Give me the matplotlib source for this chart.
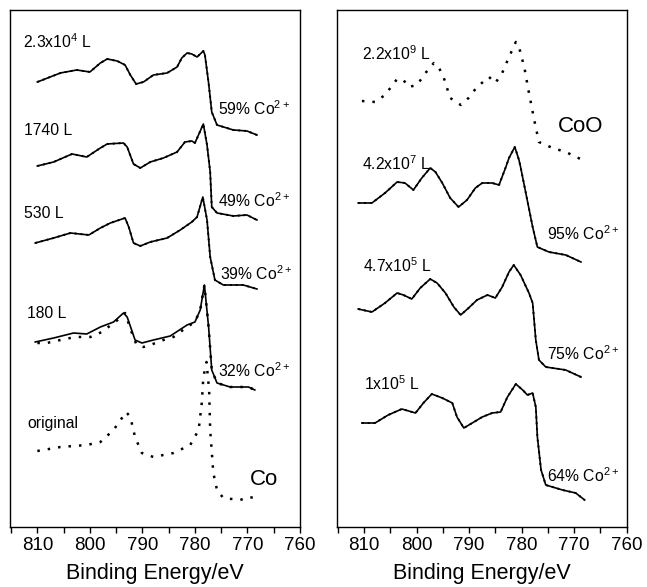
import matplotlib
matplotlib.use("Agg")
import matplotlib.pyplot as plt
from matplotlib.ticker import MultipleLocator

plt.rcParams['font.family'] = ['Liberation Sans', 'DejaVu Sans']
plt.rcParams['mathtext.default'] = 'regular'

# ---- left panel: Co metal oxidation series (binding energy eV, intensity a.u.) ----
e_23e4 = [810.0, 805.6, 802.5, 800.0, 798.0, 796.7, 794.8, 793.3, 792.3, 791.2, 789.8, 787.9, 785.3,
          783.4, 782.5, 781.5, 780.6, 779.6, 778.4, 778.1, 777.4, 776.8, 775.8, 772.7, 770.1, 768.2]
i_23e4 = [445, 454, 457, 455, 464, 468, 466, 462, 452, 443, 445, 452, 454,
          460, 469, 474, 473, 470, 476, 472, 444, 415, 402, 397, 396, 392]

e_1740 = [810.0, 806.9, 803.4, 800.6, 798.0, 796.7, 793.6, 792.9, 791.7, 790.4, 788.5, 786.0,
          783.4, 781.9, 780.6, 780.0, 778.4, 777.7, 777.1, 776.8, 775.8, 772.7, 770.1, 768.2]
i_1740 = [361, 365, 373, 370, 379, 383, 384, 380, 363, 359, 365, 369,
          375, 385, 386, 384, 403, 382, 355, 320, 314, 311, 312, 307]

e_530 = [810.4, 806.9, 803.7, 800.2, 798.0, 796.1, 793.3, 792.6, 791.7, 790.4, 788.5, 785.3,
         782.8, 780.6, 779.6, 778.5, 777.7, 777.1, 776.2, 774.6, 770.8, 768.2]
i_530 = [284, 289, 294, 292, 299, 304, 309, 300, 284, 281, 285, 289,
         297, 305, 310, 330, 307, 270, 247, 242, 242, 238]

e_180 = [810.4, 806.9, 803.1, 800.6, 798.0, 795.5, 793.6, 792.9, 791.4, 790.1, 787.9, 784.7,
         781.5, 780.0, 779.0, 778.2, 777.4, 776.8, 775.8, 773.3, 769.8, 768.6]
i_180 = [185, 189, 194, 193, 200, 205, 214, 210, 187, 184, 187, 191,
         202, 205, 217, 242, 200, 157, 144, 140, 140, 137]
# measured points of the 180 L spectrum (sit slightly below the fit)
e_180_pts = [810.0, 808.2, 805.6, 802.8, 799.9, 797.7, 795.5, 794.2, 793.3, 792.0, 791.1, 789.8,
             788.5, 786.0, 784.1, 781.5, 780.0, 779.0, 778.2, 777.4, 776.8, 775.8, 773.3, 769.8, 768.6]
i_180_pts = [184, 184, 187, 190, 190, 195, 204, 209, 214, 194, 182, 180,
             182, 187, 190, 200, 205, 217, 242, 200, 157, 144, 140, 140, 137]

e_orig = [810.0, 805.6, 800.6, 798.0, 795.5, 793.9, 793.1, 792.3, 791.4, 790.1, 787.9, 784.1,
          780.9, 779.3, 778.7, 778.4, 777.8, 777.3, 777.1, 776.5, 775.8, 774.6, 771.4, 769.8, 768.6]
i_orig = [76, 80, 82, 85, 97, 109, 115, 110, 90, 74, 70, 74,
          82, 97, 124, 150, 165, 137, 97, 54, 37, 29, 27, 30, 29]

# ---- right panel: CoO series ----
e_22e9 = [810.4, 807.9, 806.0, 803.7, 802.5, 801.5, 799.9, 798.3, 796.7, 795.8, 794.8, 793.6, 791.6, 790.1,
          788.5, 786.2, 785.0, 783.7, 782.4, 781.1, 780.5, 779.5, 778.6, 777.6, 776.7, 774.1, 771.6, 768.4]
i_22e9 = [426, 425, 432, 448, 447, 440, 442, 454, 464, 460, 449, 429, 422, 429,
          440, 450, 444, 454, 470, 485, 480, 460, 434, 407, 385, 379, 375, 367]

e_42e7 = [811.1, 808.5, 806.0, 803.7, 802.2, 800.6, 799.0, 797.4, 796.4, 795.1, 793.6, 792.0, 790.4, 788.8,
          787.5, 785.6, 784.3, 783.0, 782.4, 781.8, 781.3, 780.5, 780.2, 779.2, 777.9, 777.0, 774.8, 771.6, 768.7]
i_42e7 = [324, 324, 334, 345, 344, 337, 349, 359, 355, 344, 329, 320, 327, 339,
          344, 344, 342, 360, 369, 375, 380, 367, 360, 334, 300, 280, 275, 272, 265]

e_47e5 = [811.1, 808.5, 806.0, 803.7, 802.5, 800.9, 799.3, 797.4, 796.1, 794.5, 792.9, 791.6, 790.1, 788.5,
          786.5, 785.0, 783.7, 782.4, 781.5, 780.2, 778.6, 777.9, 777.3, 776.7, 775.4, 771.6, 768.7]
i_47e5 = [218, 215, 224, 234, 232, 228, 239, 248, 244, 234, 220, 212, 219, 227,
          232, 229, 240, 255, 262, 252, 234, 224, 187, 167, 160, 157, 150]

e_1e5 = [810.4, 807.9, 805.4, 802.8, 800.2, 798.7, 797.1, 795.1, 793.2, 792.3, 791.0, 789.4, 787.5, 785.6,
         784.0, 782.7, 781.1, 779.8, 778.9, 777.9, 777.3, 777.0, 776.3, 775.4, 772.2, 769.7, 768.0]
i_1e5 = [104, 104, 112, 118, 114, 124, 133, 129, 124, 110, 99, 104, 110, 114,
         115, 130, 143, 137, 132, 134, 120, 90, 57, 42, 37, 34, 27]

fig = plt.figure(figsize=(6.47, 5.87), dpi=100)
ax1 = fig.add_axes([0.0155, 0.1022, 0.4482, 0.8808])
ax2 = fig.add_axes([0.5204, 0.1022, 0.4482, 0.8808])


def fitted(ax, e, i):
    ax.plot(e, i, color='black', lw=1.2)
    ax.plot(e, i, color='black', lw=1.4, linestyle=(0, (1, 2)))


def dotted(ax, e, i):
    ax.plot(e, i, color='black', lw=1.8, linestyle=(0, (1, 3.2)))


fitted(ax1, e_23e4, i_23e4)
fitted(ax1, e_1740, i_1740)
fitted(ax1, e_530, i_530)
ax1.plot(e_180, i_180, color='black', lw=1.2)
dotted(ax1, e_180_pts, i_180_pts)
dotted(ax1, e_orig, i_orig)

dotted(ax2, e_22e9, i_22e9)
fitted(ax2, e_42e7, i_42e7)
fitted(ax2, e_47e5, i_47e5)
fitted(ax2, e_1e5, i_1e5)

fs = 11.3
ax1.text(812.7, 479, r'2.3x10$^4$ L', fontsize=fs)
ax1.text(812.5, 392, '1740 L', fontsize=fs)
ax1.text(812.5, 309, '530 L', fontsize=fs)
ax1.text(811.9, 209, '180 L', fontsize=fs)
ax1.text(811.9, 99, 'original', fontsize=fs)
ax1.text(769.5, 42, 'Co', fontsize=16)
ax1.text(775.6, 412, r'59% Co$^{2+}$', fontsize=fs)
ax1.text(775.6, 320, r'49% Co$^{2+}$', fontsize=fs)
ax1.text(775.2, 247, r'39% Co$^{2+}$', fontsize=fs)
ax1.text(775.6, 150, r'32% Co$^{2+}$', fontsize=fs)

ax2.text(810.4, 467, r'2.2x10$^9$ L', fontsize=fs)
ax2.text(773.1, 395, 'CoO', fontsize=16)
ax2.text(810.4, 357, r'4.2x10$^7$ L', fontsize=fs)
ax2.text(775.2, 287, r'95% Co$^{2+}$', fontsize=fs)
ax2.text(810.2, 255, r'4.7x10$^5$ L', fontsize=fs)
ax2.text(775.2, 167, r'75% Co$^{2+}$', fontsize=fs)
ax2.text(810.0, 137, r'1x10$^5$ L', fontsize=fs)
ax2.text(775.2, 45, r'64% Co$^{2+}$', fontsize=fs)

for ax in (ax1, ax2):
    ax.set_xlim(815.2, 760)
    ax.set_ylim(0, 517)
    ax.set_yticks([])
    ax.set_xticks([810, 800, 790, 780, 770, 760])
    ax.xaxis.set_minor_locator(MultipleLocator(5))
    ax.tick_params(axis='x', which='both', direction='out', length=4, width=1,
                   labelsize=13.5, pad=3)
    ax.set_xlabel('Binding Energy/eV', fontsize=15.5, labelpad=7)
    for s in ax.spines.values():
        s.set_linewidth(1.0)

fig.savefig('out.png', dpi=100)
